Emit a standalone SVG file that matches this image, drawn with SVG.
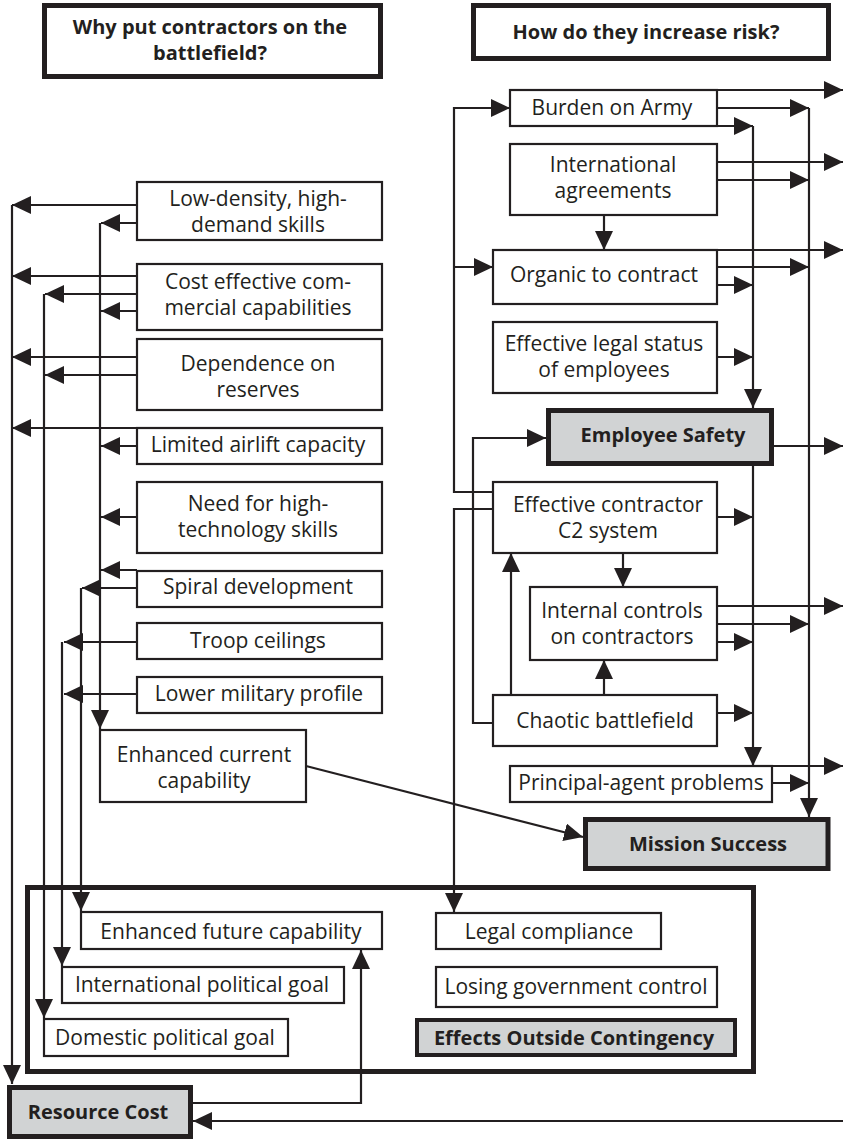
<svg xmlns="http://www.w3.org/2000/svg" width="843" height="1140" viewBox="0 0 843 1140">
<style>
.box{fill:#fff;stroke:#231f20;stroke-width:2.2}
.key{fill:#d1d3d4;stroke:#231f20;stroke-width:5}
.hdr{fill:#fff;stroke:#231f20;stroke-width:5}
.frame{fill:none;stroke:#231f20;stroke-width:5}
.t{font-family:"Open Sans","Noto Sans","Liberation Sans",sans-serif;font-size:21px;fill:#231f20;text-anchor:middle}
.b{font-weight:bold;font-size:20px}
.c{fill:none;stroke:#231f20;stroke-width:2.2;stroke-linejoin:miter}
.a{marker-end:url(#ah)}
</style>
<defs>
<marker id="ah" viewBox="0 0 19 18" refX="19" refY="9" markerWidth="19" markerHeight="18" markerUnits="userSpaceOnUse" orient="auto"><path d="M0,0L19,9L0,18z" fill="#231f20"/></marker>
</defs>
<rect width="843" height="1140" fill="#fff"/>

<g id="effects-frame"><rect class="frame" x="27.5" y="887.5" width="726" height="184"/></g>

<g id="nodes">
<g id="hdr-why"><rect class="hdr" x="44.5" y="5.5" width="336" height="71"/><text class="t b"><tspan x="210" y="34">Why put contractors on the</tspan><tspan x="210" y="60">battlefield?</tspan></text></g>
<g id="hdr-how"><rect class="hdr" x="473.5" y="5.5" width="355" height="53"/><text class="t b" x="646" y="39">How do they increase risk?</text></g>

<g id="low-density"><rect class="box" x="137" y="182" width="245" height="58"/><text class="t"><tspan x="258" y="206">Low-density, high-</tspan><tspan x="258" y="232">demand skills</tspan></text></g>
<g id="cost-effective"><rect class="box" x="137" y="264" width="245" height="66"/><text class="t"><tspan x="258" y="289">Cost effective com-</tspan><tspan x="258" y="315">mercial capabilities</tspan></text></g>
<g id="dependence"><rect class="box" x="137" y="339" width="245" height="71"/><text class="t"><tspan x="258" y="371">Dependence on</tspan><tspan x="258" y="397">reserves</tspan></text></g>
<g id="airlift"><rect class="box" x="137" y="428" width="245" height="36"/><text class="t" x="258" y="452">Limited airlift capacity</text></g>
<g id="high-tech"><rect class="box" x="137" y="482" width="245" height="71"/><text class="t"><tspan x="258" y="511">Need for high-</tspan><tspan x="258" y="537">technology skills</tspan></text></g>
<g id="spiral"><rect class="box" x="137" y="571" width="245" height="36"/><text class="t" x="258" y="594">Spiral development</text></g>
<g id="troop"><rect class="box" x="137" y="623" width="245" height="36"/><text class="t" x="258" y="648">Troop ceilings</text></g>
<g id="lower-profile"><rect class="box" x="137" y="677" width="245" height="36"/><text class="t" x="259" y="701">Lower military profile</text></g>
<g id="current-cap"><rect class="box" x="100" y="730" width="206" height="72"/><text class="t"><tspan x="204" y="762">Enhanced current</tspan><tspan x="204" y="788">capability</tspan></text></g>

<g id="future-cap"><rect class="box" x="81" y="912" width="301" height="37"/><text class="t" x="231" y="939">Enhanced future capability</text></g>
<g id="intl-goal"><rect class="box" x="62" y="967" width="282" height="36"/><text class="t" x="202" y="992">International political goal</text></g>
<g id="dom-goal"><rect class="box" x="44" y="1019" width="244" height="37"/><text class="t" x="165" y="1045">Domestic political goal</text></g>
<g id="legal-compliance"><rect class="box" x="436" y="913" width="225" height="36"/><text class="t" x="549" y="939">Legal compliance</text></g>
<g id="losing-control"><rect class="box" x="436" y="967" width="281" height="40"/><text class="t" x="576" y="994">Losing government control</text></g>
<g id="effects"><rect class="key" style="stroke-width:4" x="417" y="1020" width="318" height="35"/><text class="t b" x="574" y="1045">Effects Outside Contingency</text></g>
<g id="resource-cost"><rect class="key" x="9.5" y="1087.5" width="181" height="49"/><text class="t b" x="98" y="1119">Resource Cost</text></g>

<g id="burden"><rect class="box" x="510" y="90" width="207" height="36"/><text class="t" x="612" y="115">Burden on Army</text></g>
<g id="intl-agreements"><rect class="box" x="510" y="144" width="207" height="71"/><text class="t"><tspan x="613" y="172">International</tspan><tspan x="613" y="198">agreements</tspan></text></g>
<g id="organic"><rect class="box" x="493" y="250" width="224" height="54"/><text class="t" x="604" y="282">Organic to contract</text></g>
<g id="legal-status"><rect class="box" x="493" y="322" width="224" height="71"/><text class="t"><tspan x="604" y="351">Effective legal status</tspan><tspan x="604" y="377">of employees</tspan></text></g>
<g id="employee-safety"><rect class="key" x="548.5" y="410.5" width="223" height="53"/><text class="t b" x="663" y="442">Employee Safety</text></g>
<g id="c2"><rect class="box" x="493" y="482" width="224" height="71"/><text class="t"><tspan x="608" y="512">Effective contractor</tspan><tspan x="608" y="538">C2 system</tspan></text></g>
<g id="internal-controls"><rect class="box" x="530" y="587" width="187" height="73"/><text class="t"><tspan x="622" y="618">Internal controls</tspan><tspan x="622" y="644">on contractors</tspan></text></g>
<g id="chaotic"><rect class="box" x="493" y="695" width="224" height="51"/><text class="t" x="605" y="728">Chaotic battlefield</text></g>
<g id="principal-agent"><rect class="box" x="510" y="766" width="262" height="36"/><text class="t" x="641" y="790">Principal-agent problems</text></g>
<g id="mission-success"><rect class="key" x="585.5" y="819.5" width="242.5" height="49"/><text class="t b" x="708" y="851">Mission Success</text></g>
</g>

<g id="connectors">
<path class="c a" d="M137,205H12"/>
<path class="c a" d="M137,223H101"/>
<path class="c a" d="M137,276H12"/>
<path class="c a" d="M137,294H45"/>
<path class="c a" d="M137,311H101"/>
<path class="c a" d="M137,357H12"/>
<path class="c a" d="M137,375H45"/>
<path class="c a" d="M137,428H12"/>
<path class="c a" d="M137,446H101"/>
<path class="c a" d="M137,517H101"/>
<path class="c a" d="M137,570H101"/>
<path class="c a" d="M137,588H82"/>
<path class="c a" d="M137,642H64"/>
<path class="c a" d="M137,694H64"/>
<path class="c a" d="M12,205V1084"/>
<path class="c a" d="M44,294V1018"/>
<path class="c a" d="M62,642V966"/>
<path class="c a" d="M81,588V911"/>
<path class="c a" d="M100,223V729"/>
<path class="c a" d="M306,766L583,837"/>
<path class="c a" d="M191,1103H361V950"/>
<path class="c a" d="M843,1121H193"/>

<path class="c a" d="M717,90H843"/>
<path class="c a" d="M717,108H809"/>
<path class="c a" d="M717,126H753"/>
<path class="c a" d="M717,162H843"/>
<path class="c a" d="M717,180H809"/>
<path class="c a" d="M604,215V250"/>
<path class="c a" d="M717,250H843"/>
<path class="c a" d="M717,267H809"/>
<path class="c a" d="M717,285H753"/>
<path class="c a" d="M717,357H753"/>
<path class="c a" d="M753,126V408"/>
<path class="c a" d="M774,446H843"/>
<path class="c a" d="M753,466V766"/>
<path class="c a" d="M717,517H753"/>
<path class="c a" d="M717,606H843"/>
<path class="c a" d="M717,624H809"/>
<path class="c a" d="M717,642H753"/>
<path class="c a" d="M717,713H753"/>
<path class="c a" d="M772,766H843"/>
<path class="c a" d="M772,783H809"/>
<path class="c a" d="M809,108V817"/>
<path class="c a" d="M493,492H454V108H510"/>
<path class="c a" d="M454,267H493"/>
<path class="c a" d="M493,509H454V912"/>
<path class="c a" d="M493,723H473V438H546"/>
<path class="c a" d="M511,695V553"/>
<path class="c a" d="M604,695V660"/>
<path class="c a" d="M623,553V587"/>
</g>
</svg>
